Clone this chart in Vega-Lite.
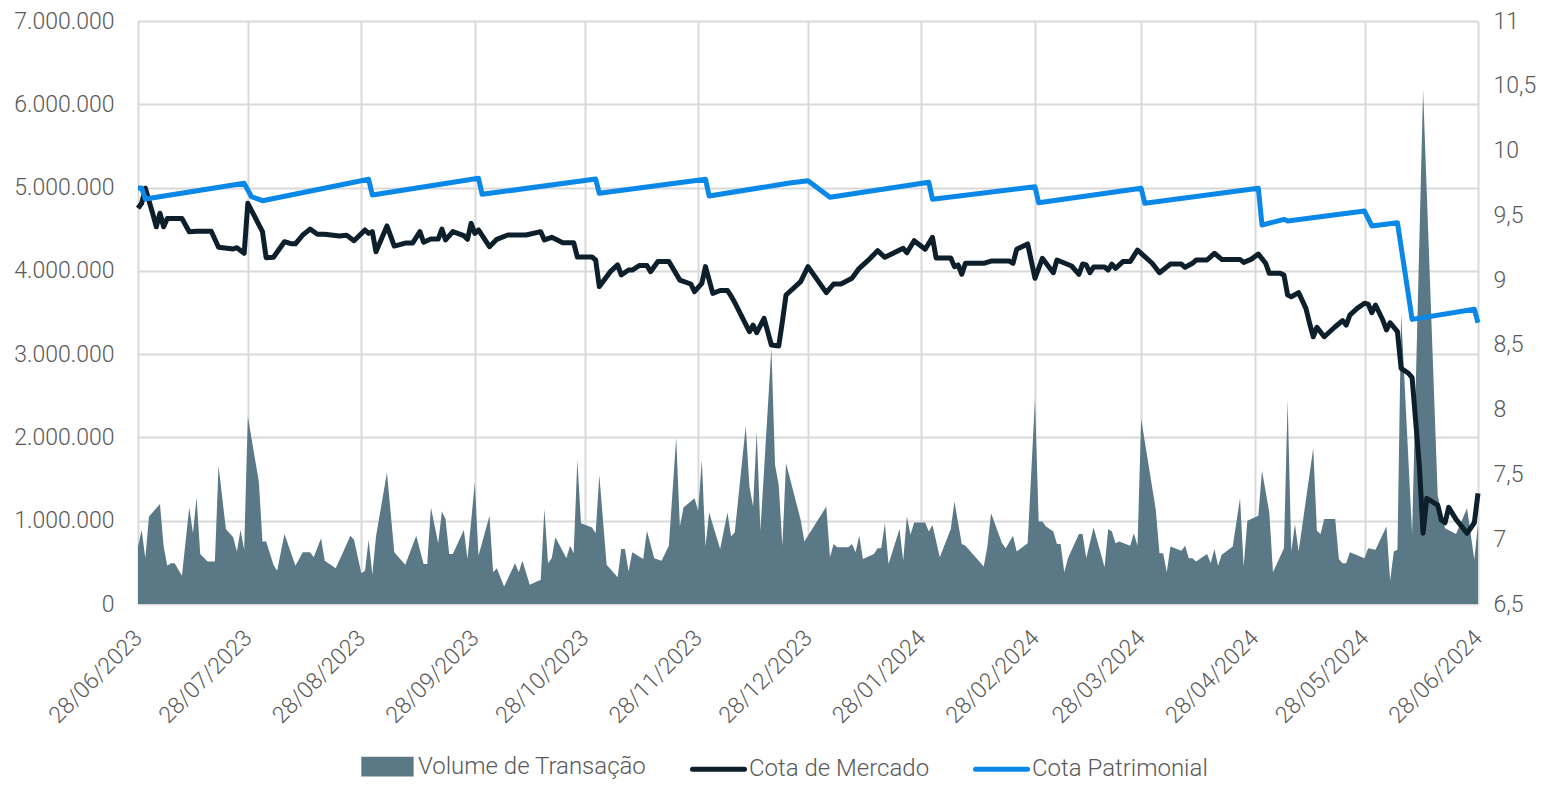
{
  "$schema": "https://vega.github.io/schema/vega-lite/v6.json",
  "width": 1340,
  "height": 583,
  "padding": {"left": 13, "top": 10, "right": 5, "bottom": 5},
  "background": "white",
  "datasets": {
    "vol": [
      {"date":"2023-06-28","volume":690000},{"date":"2023-06-29","volume":890000},{"date":"2023-06-30","volume":550000},
      {"date":"2023-07-01","volume":1050000},{"date":"2023-07-04","volume":1200000},{"date":"2023-07-05","volume":690000},
      {"date":"2023-07-06","volume":460000},{"date":"2023-07-07","volume":490000},{"date":"2023-07-08","volume":490000},
      {"date":"2023-07-10","volume":340000},{"date":"2023-07-12","volume":1160000},{"date":"2023-07-13","volume":850000},
      {"date":"2023-07-14","volume":1280000},{"date":"2023-07-15","volume":600000},{"date":"2023-07-17","volume":510000},
      {"date":"2023-07-19","volume":510000},{"date":"2023-07-20","volume":1660000},{"date":"2023-07-22","volume":900000},
      {"date":"2023-07-24","volume":800000},{"date":"2023-07-25","volume":630000},{"date":"2023-07-26","volume":890000},
      {"date":"2023-07-27","volume":650000},{"date":"2023-07-28","volume":2250000},{"date":"2023-07-31","volume":1470000},
      {"date":"2023-08-01","volume":750000},{"date":"2023-08-02","volume":750000},{"date":"2023-08-04","volume":470000},
      {"date":"2023-08-05","volume":400000},{"date":"2023-08-07","volume":840000},{"date":"2023-08-10","volume":460000},
      {"date":"2023-08-12","volume":620000},{"date":"2023-08-14","volume":620000},{"date":"2023-08-15","volume":560000},
      {"date":"2023-08-17","volume":790000},{"date":"2023-08-18","volume":520000},{"date":"2023-08-21","volume":430000},
      {"date":"2023-08-23","volume":620000},{"date":"2023-08-25","volume":820000},{"date":"2023-08-26","volume":770000},
      {"date":"2023-08-28","volume":370000},{"date":"2023-08-29","volume":400000},{"date":"2023-08-30","volume":770000},
      {"date":"2023-08-31","volume":350000},{"date":"2023-09-01","volume":810000},{"date":"2023-09-04","volume":1580000},
      {"date":"2023-09-06","volume":620000},{"date":"2023-09-09","volume":470000},{"date":"2023-09-12","volume":820000},
      {"date":"2023-09-14","volume":480000},{"date":"2023-09-15","volume":480000},{"date":"2023-09-16","volume":1160000},
      {"date":"2023-09-18","volume":730000},{"date":"2023-09-19","volume":1110000},{"date":"2023-09-20","volume":1020000},
      {"date":"2023-09-21","volume":600000},{"date":"2023-09-22","volume":600000},{"date":"2023-09-25","volume":890000},
      {"date":"2023-09-26","volume":540000},{"date":"2023-09-28","volume":1460000},{"date":"2023-09-29","volume":580000},
      {"date":"2023-10-02","volume":1060000},{"date":"2023-10-03","volume":380000},{"date":"2023-10-04","volume":430000},
      {"date":"2023-10-06","volume":210000},{"date":"2023-10-09","volume":490000},{"date":"2023-10-10","volume":380000},
      {"date":"2023-10-11","volume":520000},{"date":"2023-10-13","volume":230000},{"date":"2023-10-16","volume":290000},
      {"date":"2023-10-17","volume":1140000},{"date":"2023-10-18","volume":490000},{"date":"2023-10-19","volume":550000},
      {"date":"2023-10-20","volume":800000},{"date":"2023-10-23","volume":550000},{"date":"2023-10-24","volume":700000},
      {"date":"2023-10-25","volume":610000},{"date":"2023-10-26","volume":1730000},{"date":"2023-10-27","volume":970000},
      {"date":"2023-10-30","volume":920000},{"date":"2023-10-31","volume":850000},{"date":"2023-11-01","volume":1550000},
      {"date":"2023-11-03","volume":470000},{"date":"2023-11-06","volume":320000},{"date":"2023-11-07","volume":660000},
      {"date":"2023-11-08","volume":660000},{"date":"2023-11-09","volume":390000},{"date":"2023-11-10","volume":620000},
      {"date":"2023-11-13","volume":540000},{"date":"2023-11-14","volume":880000},{"date":"2023-11-16","volume":550000},
      {"date":"2023-11-18","volume":520000},{"date":"2023-11-20","volume":700000},{"date":"2023-11-22","volume":2000000},
      {"date":"2023-11-23","volume":930000},{"date":"2023-11-24","volume":1160000},{"date":"2023-11-27","volume":1270000},
      {"date":"2023-11-28","volume":1120000},{"date":"2023-11-29","volume":1730000},{"date":"2023-11-30","volume":690000},
      {"date":"2023-12-01","volume":1100000},{"date":"2023-12-04","volume":660000},{"date":"2023-12-06","volume":1100000},
      {"date":"2023-12-07","volume":810000},{"date":"2023-12-08","volume":860000},{"date":"2023-12-11","volume":2140000},
      {"date":"2023-12-12","volume":1410000},{"date":"2023-12-13","volume":1170000},{"date":"2023-12-14","volume":2070000},
      {"date":"2023-12-15","volume":880000},{"date":"2023-12-18","volume":3070000},{"date":"2023-12-19","volume":1670000},
      {"date":"2023-12-20","volume":1430000},{"date":"2023-12-21","volume":700000},{"date":"2023-12-22","volume":1690000},
      {"date":"2023-12-26","volume":1010000},{"date":"2023-12-27","volume":750000},{"date":"2024-01-02","volume":1170000},
      {"date":"2024-01-03","volume":560000},{"date":"2024-01-04","volume":720000},{"date":"2024-01-05","volume":680000},
      {"date":"2024-01-08","volume":680000},{"date":"2024-01-09","volume":720000},{"date":"2024-01-10","volume":620000},
      {"date":"2024-01-11","volume":820000},{"date":"2024-01-12","volume":540000},{"date":"2024-01-15","volume":600000},
      {"date":"2024-01-16","volume":670000},{"date":"2024-01-17","volume":670000},{"date":"2024-01-18","volume":970000},
      {"date":"2024-01-19","volume":480000},{"date":"2024-01-22","volume":900000},{"date":"2024-01-23","volume":520000},
      {"date":"2024-01-24","volume":1050000},{"date":"2024-01-25","volume":830000},{"date":"2024-01-26","volume":980000},
      {"date":"2024-01-29","volume":980000},{"date":"2024-01-30","volume":870000},{"date":"2024-01-31","volume":950000},
      {"date":"2024-02-02","volume":560000},{"date":"2024-02-05","volume":900000},{"date":"2024-02-06","volume":1230000},
      {"date":"2024-02-08","volume":720000},{"date":"2024-02-09","volume":700000},{"date":"2024-02-14","volume":450000},
      {"date":"2024-02-15","volume":690000},{"date":"2024-02-16","volume":1090000},{"date":"2024-02-19","volume":730000},
      {"date":"2024-02-20","volume":670000},{"date":"2024-02-22","volume":820000},{"date":"2024-02-23","volume":630000},
      {"date":"2024-02-26","volume":730000},{"date":"2024-02-28","volume":2460000},{"date":"2024-02-29","volume":990000},
      {"date":"2024-03-01","volume":990000},{"date":"2024-03-02","volume":930000},{"date":"2024-03-04","volume":870000},
      {"date":"2024-03-05","volume":720000},{"date":"2024-03-06","volume":720000},{"date":"2024-03-07","volume":380000},
      {"date":"2024-03-08","volume":550000},{"date":"2024-03-11","volume":840000},{"date":"2024-03-12","volume":840000},
      {"date":"2024-03-13","volume":550000},{"date":"2024-03-15","volume":920000},{"date":"2024-03-18","volume":440000},
      {"date":"2024-03-19","volume":900000},{"date":"2024-03-20","volume":870000},{"date":"2024-03-21","volume":730000},
      {"date":"2024-03-22","volume":750000},{"date":"2024-03-25","volume":700000},{"date":"2024-03-26","volume":850000},
      {"date":"2024-03-27","volume":700000},{"date":"2024-03-28","volume":2220000},{"date":"2024-04-01","volume":1130000},
      {"date":"2024-04-02","volume":610000},{"date":"2024-04-03","volume":610000},{"date":"2024-04-04","volume":380000},
      {"date":"2024-04-05","volume":690000},{"date":"2024-04-08","volume":640000},{"date":"2024-04-09","volume":700000},
      {"date":"2024-04-10","volume":550000},{"date":"2024-04-11","volume":550000},{"date":"2024-04-12","volume":510000},
      {"date":"2024-04-15","volume":600000},{"date":"2024-04-16","volume":490000},{"date":"2024-04-17","volume":660000},
      {"date":"2024-04-18","volume":460000},{"date":"2024-04-19","volume":590000},{"date":"2024-04-22","volume":690000},
      {"date":"2024-04-24","volume":1270000},{"date":"2024-04-25","volume":450000},{"date":"2024-04-26","volume":1000000},
      {"date":"2024-04-29","volume":1060000},{"date":"2024-04-30","volume":1600000},{"date":"2024-05-02","volume":1100000},
      {"date":"2024-05-03","volume":380000},{"date":"2024-05-06","volume":670000},{"date":"2024-05-07","volume":2450000},
      {"date":"2024-05-08","volume":630000},{"date":"2024-05-09","volume":960000},{"date":"2024-05-10","volume":630000},
      {"date":"2024-05-14","volume":1870000},{"date":"2024-05-15","volume":880000},{"date":"2024-05-16","volume":840000},
      {"date":"2024-05-17","volume":1020000},{"date":"2024-05-20","volume":1020000},{"date":"2024-05-21","volume":540000},
      {"date":"2024-05-22","volume":490000},{"date":"2024-05-23","volume":490000},{"date":"2024-05-24","volume":620000},
      {"date":"2024-05-28","volume":550000},{"date":"2024-05-29","volume":670000},{"date":"2024-05-31","volume":650000},
      {"date":"2024-06-03","volume":930000},{"date":"2024-06-04","volume":280000},{"date":"2024-06-05","volume":630000},
      {"date":"2024-06-06","volume":650000},{"date":"2024-06-07","volume":3490000},{"date":"2024-06-10","volume":840000},
      {"date":"2024-06-13","volume":6170000},{"date":"2024-06-17","volume":1300000},{"date":"2024-06-19","volume":910000},
      {"date":"2024-06-22","volume":840000},{"date":"2024-06-25","volume":1150000},{"date":"2024-06-27","volume":530000},
      {"date":"2024-06-28","volume":960000}
    ],
    "merc": [
      {"date":"2023-06-28","cota":9.554},{"date":"2023-06-29","cota":9.593},{"date":"2023-06-30","cota":9.709},
      {"date":"2023-07-02","cota":9.516},{"date":"2023-07-03","cota":9.412},{"date":"2023-07-04","cota":9.516},
      {"date":"2023-07-05","cota":9.412},{"date":"2023-07-06","cota":9.475},{"date":"2023-07-10","cota":9.475},
      {"date":"2023-07-12","cota":9.374},{"date":"2023-07-14","cota":9.377},{"date":"2023-07-18","cota":9.377},
      {"date":"2023-07-20","cota":9.253},{"date":"2023-07-24","cota":9.24},{"date":"2023-07-25","cota":9.25},
      {"date":"2023-07-27","cota":9.207},{"date":"2023-07-28","cota":9.593},{"date":"2023-08-01","cota":9.374},
      {"date":"2023-08-02","cota":9.173},{"date":"2023-08-04","cota":9.176},{"date":"2023-08-07","cota":9.296},
      {"date":"2023-08-09","cota":9.28},{"date":"2023-08-10","cota":9.28},{"date":"2023-08-12","cota":9.348},
      {"date":"2023-08-14","cota":9.394},{"date":"2023-08-16","cota":9.354},{"date":"2023-08-18","cota":9.354},
      {"date":"2023-08-22","cota":9.34},{"date":"2023-08-24","cota":9.346},{"date":"2023-08-26","cota":9.304},
      {"date":"2023-08-29","cota":9.387},{"date":"2023-08-30","cota":9.361},{"date":"2023-08-31","cota":9.374},
      {"date":"2023-09-01","cota":9.219},{"date":"2023-09-04","cota":9.418},{"date":"2023-09-06","cota":9.263},
      {"date":"2023-09-09","cota":9.286},{"date":"2023-09-11","cota":9.286},{"date":"2023-09-13","cota":9.374},
      {"date":"2023-09-14","cota":9.292},{"date":"2023-09-16","cota":9.317},{"date":"2023-09-18","cota":9.317},
      {"date":"2023-09-19","cota":9.394},{"date":"2023-09-20","cota":9.31},{"date":"2023-09-22","cota":9.374},
      {"date":"2023-09-25","cota":9.343},{"date":"2023-09-26","cota":9.315},{"date":"2023-09-27","cota":9.438},
      {"date":"2023-09-28","cota":9.361},{"date":"2023-09-29","cota":9.387},{"date":"2023-10-02","cota":9.258},
      {"date":"2023-10-04","cota":9.315},{"date":"2023-10-07","cota":9.348},{"date":"2023-10-12","cota":9.348},
      {"date":"2023-10-16","cota":9.374},{"date":"2023-10-17","cota":9.31},{"date":"2023-10-19","cota":9.33},
      {"date":"2023-10-22","cota":9.289},{"date":"2023-10-25","cota":9.289},{"date":"2023-10-26","cota":9.178},
      {"date":"2023-10-30","cota":9.178},{"date":"2023-10-31","cota":9.155},{"date":"2023-11-01","cota":8.95},
      {"date":"2023-11-04","cota":9.065},{"date":"2023-11-06","cota":9.117},{"date":"2023-11-07","cota":9.04},
      {"date":"2023-11-09","cota":9.078},{"date":"2023-11-10","cota":9.078},{"date":"2023-11-12","cota":9.113},
      {"date":"2023-11-14","cota":9.113},{"date":"2023-11-15","cota":9.065},{"date":"2023-11-17","cota":9.143},
      {"date":"2023-11-20","cota":9.143},{"date":"2023-11-23","cota":9.0},{"date":"2023-11-26","cota":8.97},
      {"date":"2023-11-27","cota":8.911},{"date":"2023-11-29","cota":8.975},{"date":"2023-11-30","cota":9.104},
      {"date":"2023-12-02","cota":8.898},{"date":"2023-12-04","cota":8.92},{"date":"2023-12-06","cota":8.92},
      {"date":"2023-12-07","cota":8.877},{"date":"2023-12-08","cota":8.826},{"date":"2023-12-12","cota":8.602},
      {"date":"2023-12-13","cota":8.653},{"date":"2023-12-14","cota":8.594},{"date":"2023-12-16","cota":8.705},
      {"date":"2023-12-18","cota":8.499},{"date":"2023-12-20","cota":8.491},{"date":"2023-12-21","cota":8.679},
      {"date":"2023-12-22","cota":8.885},{"date":"2023-12-26","cota":8.988},{"date":"2023-12-28","cota":9.104},
      {"date":"2024-01-02","cota":8.903},{"date":"2024-01-04","cota":8.97},{"date":"2024-01-06","cota":8.97},
      {"date":"2024-01-09","cota":9.014},{"date":"2024-01-11","cota":9.091},{"date":"2024-01-14","cota":9.168},
      {"date":"2024-01-16","cota":9.227},{"date":"2024-01-18","cota":9.176},{"date":"2024-01-23","cota":9.245},
      {"date":"2024-01-24","cota":9.211},{"date":"2024-01-26","cota":9.304},{"date":"2024-01-29","cota":9.238},
      {"date":"2024-01-31","cota":9.33},{"date":"2024-02-01","cota":9.17},{"date":"2024-02-05","cota":9.17},
      {"date":"2024-02-06","cota":9.104},{"date":"2024-02-07","cota":9.117},{"date":"2024-02-08","cota":9.045},
      {"date":"2024-02-09","cota":9.13},{"date":"2024-02-14","cota":9.13},{"date":"2024-02-16","cota":9.147},
      {"date":"2024-02-21","cota":9.147},{"date":"2024-02-22","cota":9.13},{"date":"2024-02-23","cota":9.238},
      {"date":"2024-02-26","cota":9.279},{"date":"2024-02-28","cota":9.014},{"date":"2024-03-01","cota":9.168},
      {"date":"2024-03-04","cota":9.057},{"date":"2024-03-05","cota":9.155},{"date":"2024-03-09","cota":9.109},
      {"date":"2024-03-11","cota":9.045},{"date":"2024-03-12","cota":9.124},{"date":"2024-03-13","cota":9.117},
      {"date":"2024-03-14","cota":9.057},{"date":"2024-03-15","cota":9.101},{"date":"2024-03-18","cota":9.101},
      {"date":"2024-03-19","cota":9.078},{"date":"2024-03-20","cota":9.124},{"date":"2024-03-21","cota":9.091},
      {"date":"2024-03-23","cota":9.143},{"date":"2024-03-25","cota":9.143},{"date":"2024-03-27","cota":9.232},
      {"date":"2024-03-28","cota":9.207},{"date":"2024-03-31","cota":9.13},{"date":"2024-04-02","cota":9.057},
      {"date":"2024-04-05","cota":9.124},{"date":"2024-04-08","cota":9.124},{"date":"2024-04-09","cota":9.099},
      {"date":"2024-04-11","cota":9.13},{"date":"2024-04-12","cota":9.155},{"date":"2024-04-15","cota":9.155},
      {"date":"2024-04-17","cota":9.207},{"date":"2024-04-19","cota":9.16},{"date":"2024-04-24","cota":9.16},
      {"date":"2024-04-25","cota":9.137},{"date":"2024-04-27","cota":9.16},{"date":"2024-04-29","cota":9.201},
      {"date":"2024-05-01","cota":9.13},{"date":"2024-05-02","cota":9.052},{"date":"2024-05-05","cota":9.052},
      {"date":"2024-05-06","cota":9.039},{"date":"2024-05-07","cota":8.885},{"date":"2024-05-08","cota":8.872},
      {"date":"2024-05-10","cota":8.903},{"date":"2024-05-12","cota":8.782},{"date":"2024-05-13","cota":8.667},
      {"date":"2024-05-14","cota":8.563},{"date":"2024-05-15","cota":8.636},{"date":"2024-05-17","cota":8.563},
      {"date":"2024-05-20","cota":8.64},{"date":"2024-05-22","cota":8.688},{"date":"2024-05-23","cota":8.653},
      {"date":"2024-05-24","cota":8.73},{"date":"2024-05-26","cota":8.782},{"date":"2024-05-28","cota":8.821},
      {"date":"2024-05-29","cota":8.815},{"date":"2024-05-30","cota":8.748},{"date":"2024-05-31","cota":8.808},
      {"date":"2024-06-02","cota":8.692},{"date":"2024-06-03","cota":8.615},{"date":"2024-06-04","cota":8.671},
      {"date":"2024-06-06","cota":8.602},{"date":"2024-06-07","cota":8.319},{"date":"2024-06-09","cota":8.281},
      {"date":"2024-06-10","cota":8.247},{"date":"2024-06-12","cota":7.56},{"date":"2024-06-13","cota":7.046},
      {"date":"2024-06-14","cota":7.316},{"date":"2024-06-17","cota":7.264},{"date":"2024-06-18","cota":7.148},
      {"date":"2024-06-19","cota":7.127},{"date":"2024-06-20","cota":7.246},{"date":"2024-06-22","cota":7.153},
      {"date":"2024-06-25","cota":7.046},{"date":"2024-06-27","cota":7.127},{"date":"2024-06-28","cota":7.354}
    ],
    "patr": [
      {"date":"2023-06-28","cota":9.711},{"date":"2023-06-29","cota":9.711},{"date":"2023-06-30","cota":9.626},
      {"date":"2023-07-27","cota":9.747},{"date":"2023-07-29","cota":9.644},{"date":"2023-08-01","cota":9.613},
      {"date":"2023-08-30","cota":9.778},{"date":"2023-08-31","cota":9.657},{"date":"2023-09-29","cota":9.786},
      {"date":"2023-09-30","cota":9.662},{"date":"2023-10-31","cota":9.78},{"date":"2023-11-01","cota":9.67},
      {"date":"2023-11-30","cota":9.778},{"date":"2023-12-01","cota":9.649},{"date":"2023-12-23","cota":9.75},
      {"date":"2023-12-28","cota":9.767},{"date":"2024-01-03","cota":9.639},{"date":"2024-01-30","cota":9.755},
      {"date":"2024-01-31","cota":9.624},{"date":"2024-02-28","cota":9.721},{"date":"2024-02-29","cota":9.597},
      {"date":"2024-03-28","cota":9.709},{"date":"2024-03-29","cota":9.593},{"date":"2024-04-29","cota":9.709},
      {"date":"2024-04-30","cota":9.425},{"date":"2024-05-06","cota":9.469},{"date":"2024-05-07","cota":9.456},
      {"date":"2024-05-28","cota":9.533},{"date":"2024-05-30","cota":9.418},{"date":"2024-06-06","cota":9.443},
      {"date":"2024-06-10","cota":8.697},{"date":"2024-06-27","cota":8.775},{"date":"2024-06-28","cota":8.671}
    ]
  },
  "layer": [
    {
      "data": {"name": "vol"},
      "mark": {"type": "area", "interpolate": "linear"},
      "encoding": {
        "x": {
          "field": "date", "type": "temporal",
          "scale": {"type": "utc", "nice": false, "domain": [{"utc": true, "year": 2023, "month": 6, "date": 28}, {"utc": true, "year": 2024, "month": 6, "date": 28}]},
          "axis": {
            "title": null, "grid": true, "format": "%d/%m/%Y", "labelAngle": -45, "labelAlign": "right", "labelBaseline": "middle",
            "labelPadding": 30, "labelFlush": false, "labelOverlap": false,
            "values": [
              {"utc": true, "year": 2023, "month": 6, "date": 28}, {"utc": true, "year": 2023, "month": 7, "date": 28},
              {"utc": true, "year": 2023, "month": 8, "date": 28}, {"utc": true, "year": 2023, "month": 9, "date": 28},
              {"utc": true, "year": 2023, "month": 10, "date": 28}, {"utc": true, "year": 2023, "month": 11, "date": 28},
              {"utc": true, "year": 2023, "month": 12, "date": 28}, {"utc": true, "year": 2024, "month": 1, "date": 28},
              {"utc": true, "year": 2024, "month": 2, "date": 28}, {"utc": true, "year": 2024, "month": 3, "date": 28},
              {"utc": true, "year": 2024, "month": 4, "date": 28}, {"utc": true, "year": 2024, "month": 5, "date": 28},
              {"utc": true, "year": 2024, "month": 6, "date": 28}
            ]
          }
        },
        "y": {
          "field": "volume", "type": "quantitative",
          "scale": {"domain": [0, 7000000], "nice": false},
          "axis": {"orient": "left", "title": null, "grid": true, "format": ",.0f", "labelPadding": 24,
                   "values": [0, 1000000, 2000000, 3000000, 4000000, 5000000, 6000000, 7000000]}
        },
        "color": {
          "datum": "Volume de Transação", "type": "nominal",
          "scale": {"domain": ["Volume de Transação", "Cota de Mercado", "Cota Patrimonial"], "range": ["#5a7886", "#0c1f2b", "#0a88e8"]},
          "legend": {
            "orient": "none", "legendX": 221, "legendY": 717, "direction": "horizontal", "title": null,
            "labelFont": "Roboto", "labelFontWeight": 300, "labelFontSize": 24, "labelColor": "#595959", "labelLimit": 400,
            "symbolSize": 2704, "symbolStrokeWidth": 5, "labelOffset": 2, "columnPadding": 35,
            "encode": {
              "symbols": {
                "update": {
                  "shape": {"signal": "datum.value === 'Volume de Transação' ? 'M-0.91,-0.28H0.91V0.28H-0.91Z' : 'stroke'"},
                  "fill": {"signal": "datum.value === 'Volume de Transação' ? '#5a7886' : 'transparent'"},
                  "stroke": {"signal": "datum.value === 'Volume de Transação' ? 'transparent' : (datum.value === 'Cota de Mercado' ? '#0c1f2b' : '#0a88e8')"},
                  "strokeWidth": {"value": 5},
                  "strokeCap": {"value": "round"},
                  "opacity": {"value": 1}
                }
              }
            }
          }
        }
      }
    },
    {
      "layer": [
        {
          "data": {"name": "merc"},
          "mark": {"type": "line", "strokeWidth": 5, "strokeJoin": "round"},
          "encoding": {
            "x": {"field": "date", "type": "temporal"},
            "y": {
              "field": "cota", "type": "quantitative",
              "scale": {"domain": [6.5, 11], "nice": false, "zero": false},
              "axis": {"orient": "right", "title": null, "grid": false, "format": ".1~f", "labelPadding": 15,
                       "values": [6.5, 7, 7.5, 8, 8.5, 9, 9.5, 10, 10.5, 11]}
            },
            "color": {"datum": "Cota de Mercado", "type": "nominal"}
          }
        },
        {
          "data": {"name": "patr"},
          "mark": {"type": "line", "strokeWidth": 5, "strokeJoin": "round"},
          "encoding": {
            "x": {"field": "date", "type": "temporal"},
            "y": {"field": "cota", "type": "quantitative"},
            "color": {"datum": "Cota Patrimonial", "type": "nominal"}
          }
        }
      ]
    }
  ],
  "resolve": {"scale": {"y": "independent"}},
  "config": {
    "locale": {"number": {"decimal": ",", "thousands": ".", "grouping": [3], "currency": ["R$ ", ""]}},
    "view": {"stroke": null},
    "axis": {
      "labelFont": "Roboto", "labelFontWeight": 300, "labelFontSize": 23, "labelColor": "#595959",
      "domain": false, "ticks": false, "gridColor": "#d9d9d9", "gridWidth": 2
    }
  }
}
